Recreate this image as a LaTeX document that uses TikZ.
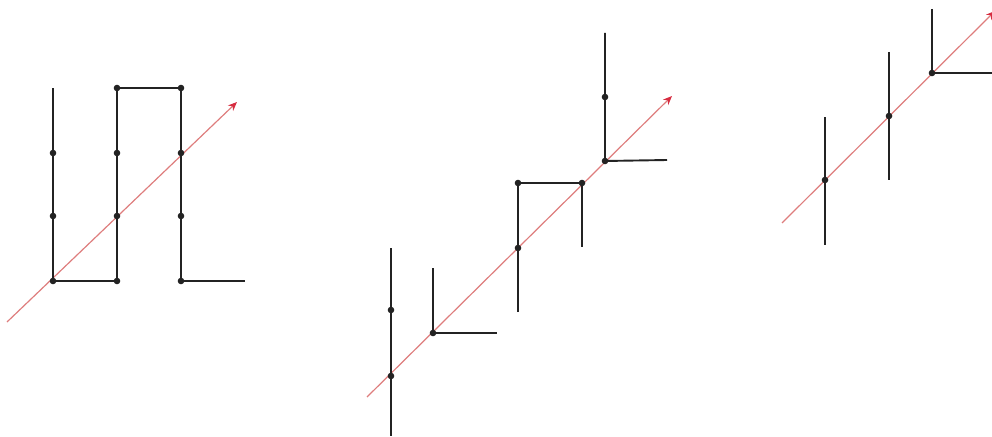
\documentclass[tikz,border=0pt]{standalone}
\usetikzlibrary{arrows.meta}
\definecolor{ink}{RGB}{35,35,35}
\definecolor{axisred}{RGB}{222,125,125}
\definecolor{tipred}{RGB}{215,45,65}
\tikzset{
  seg/.style={draw=ink, line width=1.9pt},
  axis/.style={draw=axisred, line width=1.2pt, -{Stealth[length=9pt,width=7.5pt,color=tipred]}},
  dotmark/.style={fill=ink}
}
\newcommand{\dotat}[1]{\fill[dotmark] (#1) circle (3.3pt);}
\begin{document}
\begin{tikzpicture}[x=1pt,y=-1pt]
\useasboundingbox (0,0) rectangle (992,436);
\clip (0,0) rectangle (992,436);
% ---------- panel 1 ----------
\coordinate (a0) at (7,322);
\coordinate (a9) at (237,102);
\draw[axis] (a0) -- (a9);
\coordinate (p1) at (53,88);
\coordinate (p2) at (53,153);
\coordinate (p3) at (53,216);
\coordinate (p4) at (53,281);
\coordinate (q1) at (117,88);
\coordinate (q2) at (117,153);
\coordinate (q3) at (117,216);
\coordinate (q4) at (117,281);
\coordinate (r1) at (181,88);
\coordinate (r2) at (181,153);
\coordinate (r3) at (181,216);
\coordinate (r4) at (181,281);
\coordinate (s1) at (245,281);
\draw[seg] (p1) -- (p4) -- (q4) -- (q1) -- (r1) -- (r4) -- (s1);
\foreach \n in {p2,p3,p4,q1,q2,q3,q4,r1,r2,r3,r4} {\dotat{\n}}
% ---------- panel 2 ----------
\coordinate (b0) at (367,397);
\coordinate (b9) at (672,96);
\draw[axis] (b0) -- (b9);
\coordinate (c1) at (391,248);
\coordinate (c2) at (391,310);
\coordinate (c3) at (391,376);
\coordinate (c4) at (391,436);
\draw[seg] (c1) -- (c4);
\coordinate (d1) at (433,268);
\coordinate (d2) at (433,333);
\coordinate (d3) at (497,333);
\draw[seg] (d1) -- (d2) -- (d3);
\coordinate (e1) at (518,312);
\coordinate (e2) at (518,248);
\coordinate (e3) at (518,183);
\coordinate (e4) at (582,183);
\coordinate (e5) at (582,247);
\draw[seg] (e1) -- (e3) -- (e4) -- (e5);
\coordinate (f1) at (605,33);
\coordinate (f2) at (605,97);
\coordinate (f3) at (605,161);
\coordinate (f4) at (667,160);
\draw[seg] (f1) -- (f3) -- (f4);
\foreach \n in {c2,c3,d2,e2,e3,e4,f2,f3} {\dotat{\n}}
% ---------- panel 3 ----------
\coordinate (g0) at (782,223);
\coordinate (g9) at (995,11);
\draw[axis] (g0) -- (g9);
\coordinate (h1) at (825,117);
\coordinate (h2) at (825,180);
\coordinate (h3) at (825,245);
\draw[seg] (h1) -- (h3);
\coordinate (k1) at (889,52);
\coordinate (k2) at (889,116);
\coordinate (k3) at (889,180);
\draw[seg] (k1) -- (k3);
\coordinate (m1) at (932,9);
\coordinate (m2) at (932,73);
\coordinate (m3) at (992,73);
\draw[seg] (m1) -- (m2) -- (m3);
\foreach \n in {h2,k2,m2} {\dotat{\n}}
\end{tikzpicture}
\end{document}
